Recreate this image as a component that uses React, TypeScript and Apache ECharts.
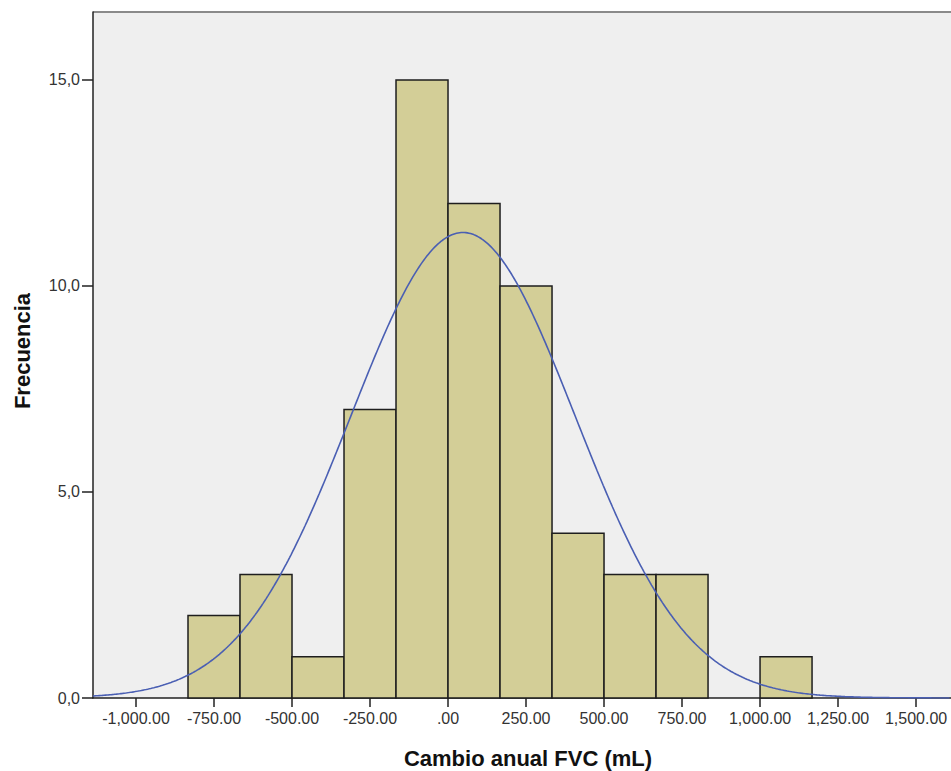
import React, { useEffect, useRef } from "react";
import * as echarts from "echarts";

// Histogram bins (Cambio anual FVC, mL)
const binStarts = [-833.33, -666.67, -500, -333.33, -166.67, 0, 166.67, 333.33, 500, 666.67, 833.33, 1000];
const binWidth = 166.67;
const counts = [2, 3, 1, 7, 15, 12, 10, 4, 3, 3, 0, 1];

// Fitted normal curve parameters
const fitMean = 48;
const fitSd = 359;
const fitN = 61;

const xTicks = [-1000, -750, -500, -250, 0, 250, 500, 750, 1000, 1250, 1500];
const yTicks = [0, 5, 10, 15];

const fmtX = (v: number) => {
  if (v === 0) return ".00";
  const s = Math.abs(v).toLocaleString("en-US", { minimumFractionDigits: 2, maximumFractionDigits: 2 });
  return (v < 0 ? "-" : "") + s;
};

export default function App() {
  const ref = useRef<HTMLDivElement>(null);
  useEffect(() => {
    if (!ref.current) return;
    const chart = echarts.init(ref.current, undefined, { renderer: "svg" });
    const xMin = -1137.8;
    const xMax = 1612;
    const curve: number[][] = [];
    for (let x = xMin; x <= xMax; x += 5) {
      const z = (x - fitMean) / fitSd;
      const y = (fitN * binWidth) / (fitSd * Math.sqrt(2 * Math.PI)) * Math.exp(-0.5 * z * z);
      curve.push([x, y]);
    }
    const barData = binStarts.map((s, i) => [s, s + binWidth, counts[i]]).filter((d) => d[2] > 0);
    chart.setOption({
      animation: false,
      grid: {
        left: 93, top: 12, right: 0, bottom: 73,
        show: true, backgroundColor: "#efefef", borderWidth: 0,
      },
      xAxis: {
        type: "value", min: xMin, max: xMax,
        axisLine: { show: true, onZero: false, lineStyle: { color: "#222", width: 1.5 } },
        axisTick: { show: true, customValues: xTicks, length: 9, lineStyle: { color: "#222", width: 1.5 } },
        axisLabel: {
          customValues: xTicks, formatter: (v: number) => fmtX(v), margin: 12,
          fontFamily: "Liberation Sans, Arial, sans-serif", fontSize: 16, color: "#333",
        },
        splitLine: { show: false },
      },
      yAxis: {
        type: "value", min: 0, max: 16.65,
        axisLine: { show: true, onZero: false, lineStyle: { color: "#222", width: 1.5 } },
        axisTick: { show: true, customValues: yTicks, length: 11, lineStyle: { color: "#222", width: 1.5 } },
        axisLabel: {
          customValues: yTicks, formatter: (v: number) => v.toFixed(1).replace(".", ","), margin: 13,
          fontFamily: "Liberation Sans, Arial, sans-serif", fontSize: 16, color: "#333",
        },
        splitLine: { show: false },
      },
      series: [
        {
          type: "custom",
          data: barData,
          encode: { x: [0, 1], y: 2 },
          renderItem: (params: any, api: any) => {
            const p0 = api.coord([api.value(0), api.value(2)]);
            const p1 = api.coord([api.value(1), 0]);
            return {
              type: "rect",
              shape: { x: p0[0], y: p0[1], width: p1[0] - p0[0], height: p1[1] - p0[1] },
              style: { fill: "#d3ce97", stroke: "#1e1e1e", lineWidth: 1.5 },
            };
          },
          z: 2,
        },
        {
          type: "line",
          data: curve,
          showSymbol: false,
          symbol: "none",
          lineStyle: { color: "#4a5fb3", width: 1.6 },
          z: 3,
        },
      ],
      graphic: [
        {
          type: "line",
          shape: { x1: 93, y1: 12, x2: 951, y2: 12 },
          style: { stroke: "#8a8a8a", lineWidth: 2 },
        },
        {
          type: "text",
          x: 528, y: 758,
          style: {
            text: "Cambio anual FVC (mL)", fontSize: 22, fontWeight: "bold",
            fontFamily: "Liberation Sans, Arial, sans-serif", fill: "#111",
            align: "center", verticalAlign: "middle",
          },
        },
        {
          type: "text",
          x: 22, y: 351, rotation: Math.PI / 2,
          style: {
            text: "Frecuencia", fontSize: 22, fontWeight: "bold",
            fontFamily: "Liberation Sans, Arial, sans-serif", fill: "#111",
            align: "center", verticalAlign: "middle",
          },
        },
      ],
    });
    return () => chart.dispose();
  }, []);
  return <div ref={ref} style={{ position: "absolute", left: 0, top: 0, width: 951, height: 771 }} />;
}
